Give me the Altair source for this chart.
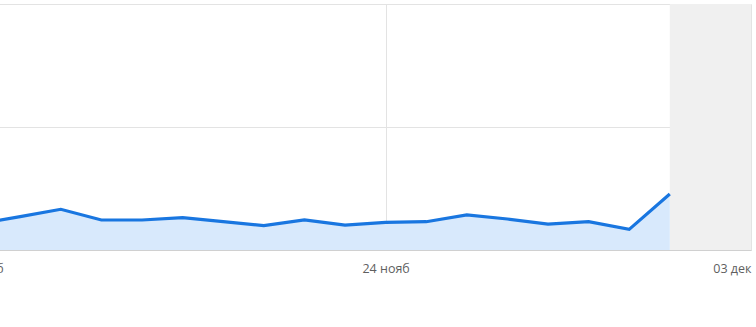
import altair as alt
import pandas as pd

# Daily values
dates = ["2024-11-14", "2024-11-15", "2024-11-16", "2024-11-17", "2024-11-18",
         "2024-11-19", "2024-11-20", "2024-11-21", "2024-11-22", "2024-11-23",
         "2024-11-24", "2024-11-25", "2024-11-26", "2024-11-27", "2024-11-28",
         "2024-11-29", "2024-11-30", "2024-12-01"]
values = [21.6, 27.1, 33.1, 24.4, 24.4, 26.3, 23.0, 19.9, 24.4, 20.3,
          22.5, 23.0, 28.5, 25.2, 21.1, 23.0, 16.8, 45.5]

# Tick positions and labels
tick_dates = ["2024-11-14", "2024-11-24", "2024-12-03"]
tick_labels = ["14 нояб", "24 нояб", "03 дек"]

# Shaded (incomplete) period
shade_start = ["2024-12-01"]
shade_end = ["2024-12-03"]

domain_dates = ["2024-11-13", "2024-12-03"]
y_ticks = [0, 100, 200]


def ms(d):
    return int(pd.Timestamp(d, tz="UTC").value // 10**6)


df = pd.DataFrame({"date": dates, "value": values})
shade = pd.DataFrame({"start": shade_start, "end": shade_end})

tick_ms = [ms(d) for d in tick_dates]
label_expr = "''"
for t, lab in zip(reversed(tick_ms), reversed(tick_labels)):
    label_expr = f"(+datum.value === {t}) ? '{lab}' : ({label_expr})"

W = 812
H = 246

xscale = alt.Scale(type="utc", domain=[ms(d) for d in domain_dates])
yscale = alt.Scale(domain=[y_ticks[0], y_ticks[-1]])

xaxis = alt.Axis(values=tick_ms, labelExpr=label_expr, title=None, grid=True,
                 gridColor="#e3e3e3", ticks=False, domainColor="#d0d0d0",
                 labelColor="#5f5f5f", labelFontSize=12.5, labelFont="Open Sans",
                 labelPadding=12, labelFlush=True)
yaxis = alt.Axis(values=y_ticks, title=None, labels=False, ticks=False,
                 domain=False, grid=True, gridColor="#e3e3e3")

rect = alt.Chart(shade).mark_rect(color="#f0f0f0").encode(
    x=alt.X("start:T", scale=xscale, axis=xaxis),
    x2="end:T",
)

area = alt.Chart(df).mark_area(color="#d8e9fc", opacity=1).encode(
    x=alt.X("date:T", scale=xscale, axis=xaxis),
    y=alt.Y("value:Q", scale=yscale, axis=yaxis),
)

line = alt.Chart(df).mark_line(color="#1976e0", strokeWidth=3.2).encode(
    x=alt.X("date:T", scale=xscale, axis=xaxis),
    y=alt.Y("value:Q", scale=yscale, axis=yaxis),
)

chart = alt.layer(rect, area, line).properties(
    width=W, height=H,
    autosize=alt.AutoSizeParams(type="none"),
    padding={"left": -61, "top": 4, "right": 5, "bottom": 77},
).configure_view(stroke=None)

chart.save("out.html", embed_options={"renderer": "svg", "actions": False})
